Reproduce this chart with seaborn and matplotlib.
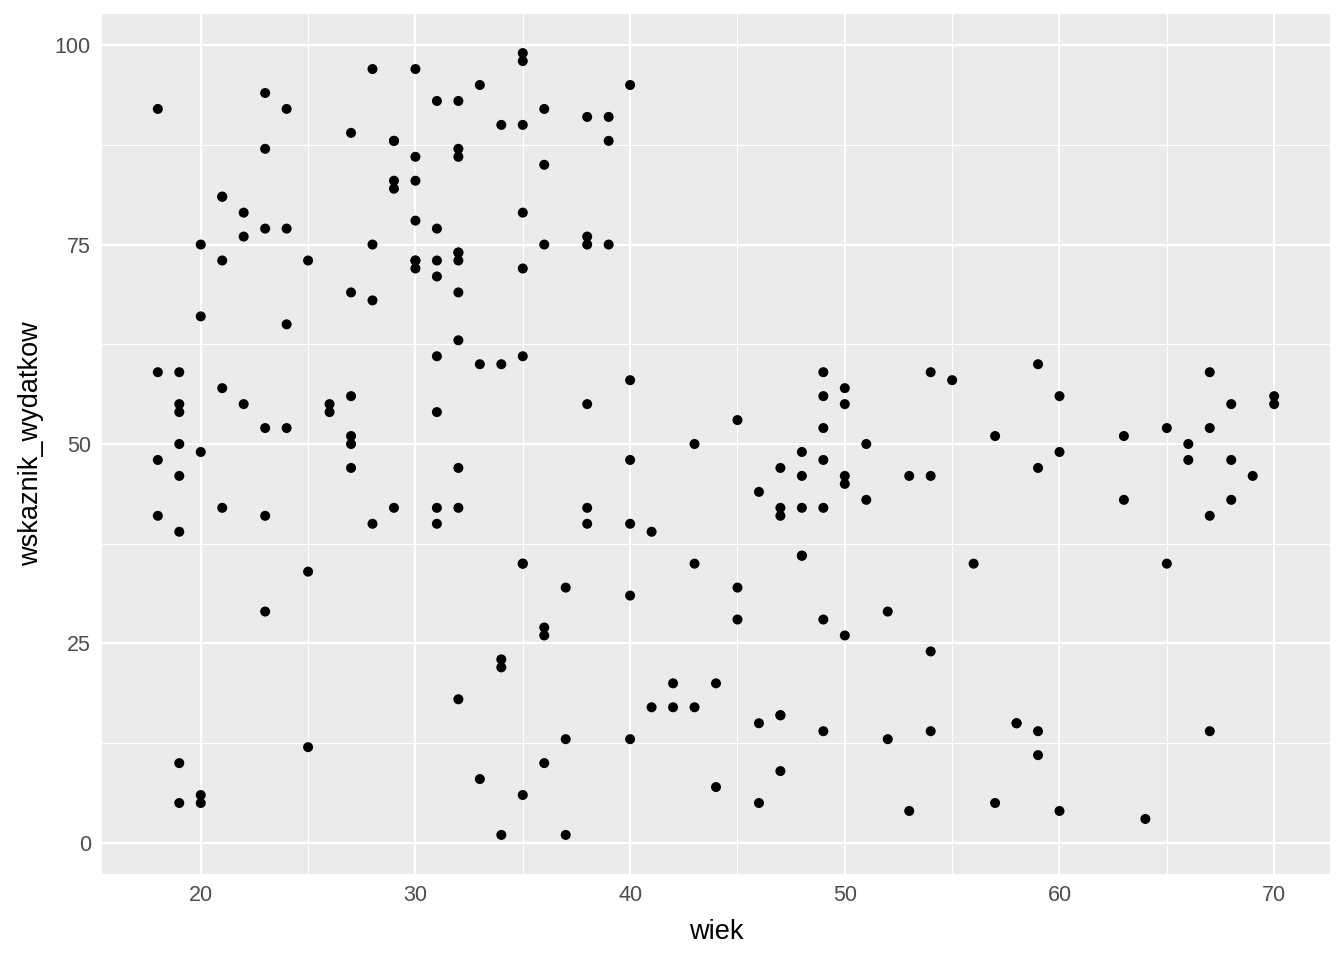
import numpy as np
import pandas as pd
import seaborn as sns
import matplotlib.pyplot as plt
from matplotlib.ticker import MultipleLocator

# values (age vs spending score)
wiek = [19, 21, 20, 23, 31, 22, 35, 23, 64, 30, 67, 35, 58, 24, 37, 22, 35, 20, 52, 35,
        35, 25, 46, 31, 54, 29, 45, 35, 40, 23, 60, 21, 53, 18, 49, 21, 42, 30, 36, 20,
        65, 24, 48, 31, 49, 24, 50, 27, 29, 31, 49, 33, 31, 59, 50, 47, 51, 69, 27, 53,
        70, 19, 67, 54, 63, 18, 43, 68, 19, 32, 70, 47, 60, 60, 59, 26, 45, 40, 23, 49,
        57, 38, 67, 46, 21, 48, 55, 22, 34, 50, 68, 18, 48, 40, 32, 24, 47, 27, 48, 20,
        23, 49, 67, 26, 49, 21, 66, 54, 68, 66, 65, 19, 38, 19, 18, 19, 63, 49, 51, 50,
        27, 38, 40, 39, 23, 31, 43, 40, 59, 38, 47, 39, 25, 31, 20, 29, 44, 32, 19, 35,
        57, 32, 28, 32, 25, 28, 48, 32, 34, 34, 43, 39, 44, 38, 47, 27, 37, 30, 34, 30,
        56, 29, 19, 31, 50, 36, 42, 33, 36, 32, 40, 28, 36, 36, 52, 30, 58, 27, 59, 35,
        37, 32, 46, 29, 41, 30, 54, 28, 41, 36, 34, 32, 33, 38, 47, 35, 45, 32, 32, 30]
wskaznik_wydatkow = [39, 81, 6, 77, 40, 76, 6, 94, 3, 72, 14, 99, 15, 77, 13, 79, 35, 66, 29, 98,
                     35, 73, 5, 73, 14, 82, 32, 61, 31, 87, 4, 73, 4, 92, 14, 81, 17, 73, 26, 75,
                     35, 92, 36, 61, 28, 65, 55, 47, 42, 42, 52, 60, 54, 60, 45, 41, 50, 46, 51, 46,
                     56, 55, 52, 59, 51, 59, 50, 48, 59, 47, 55, 42, 49, 56, 47, 54, 53, 48, 52, 42,
                     51, 55, 41, 44, 57, 46, 58, 55, 60, 46, 55, 41, 49, 40, 42, 52, 47, 50, 42, 49,
                     41, 48, 59, 55, 56, 42, 50, 46, 43, 48, 52, 54, 42, 46, 48, 50, 43, 59, 43, 57,
                     56, 40, 58, 91, 29, 77, 35, 95, 11, 75, 9, 75, 34, 71, 5, 88, 7, 73, 10, 72,
                     5, 93, 40, 87, 12, 97, 36, 74, 22, 90, 17, 88, 20, 76, 16, 89, 1, 78, 1, 73,
                     35, 83, 5, 93, 26, 75, 20, 95, 27, 63, 13, 75, 10, 92, 13, 86, 15, 69, 14, 90,
                     32, 86, 15, 88, 39, 97, 24, 68, 17, 85, 23, 69, 8, 91, 16, 79, 28, 74, 18, 83]

df = pd.DataFrame({'wiek': wiek, 'wskaznik_wydatkow': wskaznik_wydatkow})

sns.set_style('darkgrid', {'axes.facecolor': '#EBEBEB', 'grid.color': 'white'})
plt.rcParams['font.family'] = ['Liberation Sans', 'DejaVu Sans']

fig = plt.figure(figsize=(13.44, 9.6), dpi=100)
ax = fig.add_axes([102 / 1344, 86 / 960, 1228 / 1344, 860 / 960])

sns.scatterplot(data=df, x='wiek', y='wskaznik_wydatkow', color='black',
                s=52, edgecolor='none', ax=ax)

# ggplot-like expanded limits
xr = max(wiek) - min(wiek)
yr = max(wskaznik_wydatkow) - min(wskaznik_wydatkow)
ax.set_xlim(min(wiek) - 0.05 * xr, max(wiek) + 0.05 * xr)
ax.set_ylim(min(wskaznik_wydatkow) - 0.05 * yr, max(wskaznik_wydatkow) + 0.05 * yr)

ax.xaxis.set_major_locator(MultipleLocator(10))
ax.xaxis.set_minor_locator(MultipleLocator(5))
ax.yaxis.set_major_locator(MultipleLocator(25))
ax.yaxis.set_minor_locator(MultipleLocator(12.5))
ax.grid(which='major', color='white', linewidth=1.5)
ax.grid(which='minor', color='white', linewidth=0.75)
ax.set_axisbelow(True)
for sp in ax.spines.values():
    sp.set_visible(False)

ax.tick_params(axis='both', which='major', length=5, width=1, color='#333333',
               labelsize=15.5, labelcolor='#4D4D4D', pad=3)
ax.tick_params(axis='both', which='minor', length=0)

ax.set_xlabel('wiek', fontsize=19.5, color='black', labelpad=9)
ax.set_ylabel('wskaznik_wydatkow', fontsize=19.5, color='black', labelpad=8)

fig.savefig('out.png', dpi=100)
